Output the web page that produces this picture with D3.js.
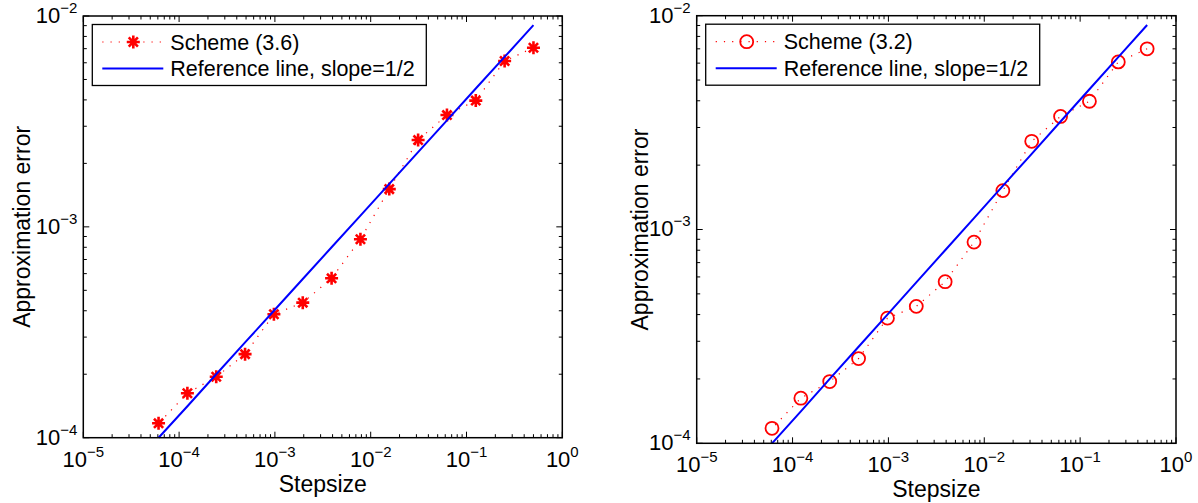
<!DOCTYPE html>
<html>
<head>
<meta charset="utf-8">
<script src="https://cdn.jsdelivr.net/npm/d3@7"></script>
<style>
  body { margin: 0; background: #fff; }
  svg text { font-family: "Liberation Sans", Arial, Helvetica, sans-serif; fill: #000; }
</style>
</head>
<body>
<svg id="chart" width="1198" height="503"></svg>
<script>
// step sizes 2^-1 ... 2^-14
let stepsize = [0.5, 0.25, 0.125, 0.0625, 0.03125, 0.015625, 0.0078125, 0.00390625,
    0.001953125, 0.0009765625, 0.00048828125, 0.000244140625, 0.0001220703125, 0.00006103515625];
let errScheme36 = [7.07e-3, 6.12e-3, 3.97e-3, 3.39e-3, 2.58e-3, 1.51e-3, 8.73e-4,
    5.70e-4, 4.37e-4, 3.85e-4, 2.49e-4, 1.945e-4, 1.625e-4, 1.17e-4];
let errScheme32 = [7.0e-3, 6.08e-3, 3.98e-3, 3.38e-3, 2.585e-3, 1.52e-3, 8.73e-4,
    5.70e-4, 4.37e-4, 3.85e-4, 2.49e-4, 1.945e-4, 1.625e-4, 1.175e-4];
let refLine = [9.05e-3, 6.4e-3, 4.53e-3, 3.2e-3, 2.26e-3, 1.6e-3, 1.13e-3,
    8.0e-4, 5.66e-4, 4.0e-4, 2.83e-4, 2.0e-4, 1.41e-4, 1.0e-4];

let xTicks = [1e-5, 1e-4, 1e-3, 1e-2, 1e-1, 1e0];
let xTickExp = ["\u22125", "\u22124", "\u22123", "\u22122", "\u22121", "0"];
let yTicks = [1e-4, 1e-3, 1e-2];
let yTickExp = ["\u22124", "\u22123", "\u22122"];

let xLabel = "Stepsize";
let yLabel = "Approximation error";
let refName = "Reference line, slope=1/2";

let svg = d3.select("#chart");

function minorTicks(lo, hi){
    let out = [];
    for(let e = lo; e < hi; e++){
        for(let m = 1; m < 10; m++) out.push(m * Math.pow(10, e));
    }
    out.push(Math.pow(10, hi));
    return out;
}

function starMarker(g, x, y){
    let s = 6.5, d = 4.6;
    g.append("path")
        .attr("d", "M"+(x-s)+","+y+"H"+(x+s)+"M"+x+","+(y-s)+"V"+(y+s)
            +"M"+(x-d)+","+(y-d)+"L"+(x+d)+","+(y+d)+"M"+(x-d)+","+(y+d)+"L"+(x+d)+","+(y-d))
        .attr("stroke", "#ff0000").attr("stroke-width", 2.6).attr("fill", "none");
}

function circleMarker(g, x, y){
    g.append("circle").attr("cx", x).attr("cy", y).attr("r", 6.5)
        .attr("stroke", "#ff0000").attr("stroke-width", 1.8).attr("fill", "none");
}

function drawPanel(p){
    let g = svg.append("g").attr("transform", "translate(" + p.left + "," + p.top + ")");

    let x = d3.scaleLog().domain([1e-5, 1]).range([0, p.width]);
    let y = d3.scaleLog().domain([1e-4, 1e-2]).range([p.height, 0]);

    // ticks, inward on all four sides
    let minX = minorTicks(-5, 0), minY = minorTicks(-4, -2);
    let tk = g.append("g").attr("stroke", "#000").attr("stroke-width", 1);
    minX.forEach(function(v){
        let len = xTicks.indexOf(v) >= 0 ? 6 : 3.5;
        let px = x(v);
        tk.append("line").attr("x1", px).attr("x2", px).attr("y1", p.height).attr("y2", p.height - len);
        tk.append("line").attr("x1", px).attr("x2", px).attr("y1", 0).attr("y2", len);
    });
    minY.forEach(function(v){
        let len = yTicks.indexOf(v) >= 0 ? 6 : 3.5;
        let py = y(v);
        tk.append("line").attr("x1", 0).attr("x2", len).attr("y1", py).attr("y2", py);
        tk.append("line").attr("x1", p.width).attr("x2", p.width - len).attr("y1", py).attr("y2", py);
    });

    // tick labels
    xTicks.forEach(function(v, i){
        let t = g.append("text").attr("x", x(v)).attr("y", p.height + 29)
            .attr("text-anchor", "middle").style("font-size", "22px");
        t.append("tspan").text("10");
        t.append("tspan").attr("dy", -10).style("font-size", "15px").text(xTickExp[i]);
    });
    yTicks.forEach(function(v, i){
        let t = g.append("text").attr("x", -6).attr("y", y(v) + 7)
            .attr("text-anchor", "end").style("font-size", "22px");
        t.append("tspan").text("10");
        t.append("tspan").attr("dy", -10).style("font-size", "15px").text(yTickExp[i]);
    });

    // axis labels
    g.append("text").attr("x", p.width / 2).attr("y", p.height + 54)
        .attr("text-anchor", "middle").style("font-size", "23px").text(xLabel);
    g.append("text").attr("transform", "translate(" + p.yLabelX + "," + (p.height / 2) + ") rotate(-90)")
        .attr("text-anchor", "middle").style("font-size", "23px").text(yLabel);

    // data
    let idx = d3.range(stepsize.length);
    let lineScheme = d3.line().x(function(i){ return x(stepsize[i]); }).y(function(i){ return y(p.err[i]); });
    let lineRef = d3.line().x(function(i){ return x(stepsize[i]); }).y(function(i){ return y(refLine[i]); });

    g.append("path").datum(idx).attr("d", lineScheme)
        .attr("fill", "none").attr("stroke", "#ff0000").attr("stroke-width", 1.2)
        .attr("stroke-dasharray", "1.2,7");
    idx.forEach(function(i){ p.marker(g, x(stepsize[i]), y(p.err[i])); });
    g.append("path").datum(idx).attr("d", lineRef)
        .attr("fill", "none").attr("stroke", "#0000ff").attr("stroke-width", 2);

    // box
    g.append("rect").attr("width", p.width).attr("height", p.height)
        .attr("fill", "none").attr("stroke", "#000").attr("stroke-width", 1.5);

    // legend
    let lg = g.append("g").attr("transform", "translate(9,8.5)");
    lg.append("rect").attr("width", 334).attr("height", 61)
        .attr("fill", "#fff").attr("stroke", "#000").attr("stroke-width", 1.3);
    lg.append("line").attr("x1", 10).attr("x2", 71).attr("y1", 17.5).attr("y2", 17.5)
        .attr("stroke", "#ff0000").attr("stroke-width", 1.2).attr("stroke-dasharray", "1.2,7");
    p.marker(lg, 41, 17.5);
    lg.append("line").attr("x1", 10).attr("x2", 71).attr("y1", 44).attr("y2", 44)
        .attr("stroke", "#0000ff").attr("stroke-width", 2);
    lg.append("text").attr("x", 78).attr("y", 25).style("font-size", "21.5px").text(p.name);
    lg.append("text").attr("x", 78).attr("y", 51.5).style("font-size", "21.5px").text(refName);
}

drawPanel({left: 83.3, top: 16, width: 479, height: 421.7, yLabelX: -53,
    err: errScheme36, name: "Scheme (3.6)", marker: starMarker});
drawPanel({left: 696.7, top: 15.7, width: 479.3, height: 427.6, yLabelX: -49,
    err: errScheme32, name: "Scheme (3.2)", marker: circleMarker});
</script>
</body>
</html>
